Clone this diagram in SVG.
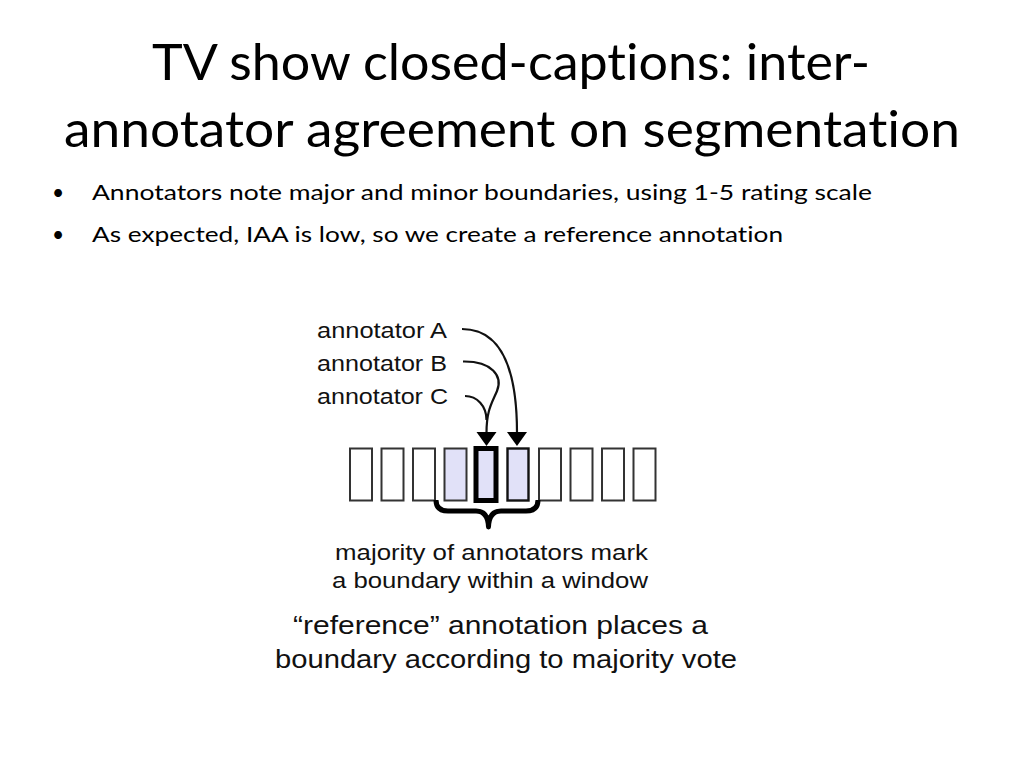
<svg xmlns="http://www.w3.org/2000/svg" width="1024" height="768" viewBox="0 0 1024 768">
<style>
.title{font-family:Lato,"Open Sans","Liberation Sans",sans-serif;font-size:50px;fill:#000;font-variant-ligatures:none}
.bul{font-family:Lato,"Open Sans","Liberation Sans",sans-serif;font-size:21px;fill:#000;font-variant-ligatures:none}
.lab{font-family:"Liberation Sans",Arial,sans-serif;fill:#111}
.box{fill:#fff;stroke:#333;stroke-width:2}
.hl{fill:#e1e1f8}
.conn{fill:none;stroke:#111;stroke-width:2.2}
</style>
<rect width="1024" height="768" fill="#fff"/>
<g id="title">
<text class="title" x="152" y="80" textLength="718" lengthAdjust="spacingAndGlyphs">TV show closed-captions: inter-</text>
<text class="title" x="64" y="147" textLength="896" lengthAdjust="spacingAndGlyphs">annotator agreement on segmentation</text>
</g>
<g id="bullets">
<text class="bul" x="52" y="200">•</text>
<text class="bul" x="92" y="200" textLength="780" lengthAdjust="spacingAndGlyphs">Annotators note major and minor boundaries, using 1-5 rating scale</text>
<text class="bul" x="52" y="242">•</text>
<text class="bul" x="92" y="242" textLength="691" lengthAdjust="spacingAndGlyphs">As expected, IAA is low, so we create a reference annotation</text>
</g>
<g id="labels">
<text class="lab" x="317" y="338" font-size="22" textLength="130" lengthAdjust="spacingAndGlyphs">annotator A</text>
<text class="lab" x="317" y="371" font-size="22" textLength="130" lengthAdjust="spacingAndGlyphs">annotator B</text>
<text class="lab" x="317" y="404" font-size="22" textLength="131" lengthAdjust="spacingAndGlyphs">annotator C</text>
</g>
<g id="boxes">
<rect class="box" x="350" y="448.5" width="22" height="52"/>
<rect class="box" x="381.5" y="448.5" width="22" height="52"/>
<rect class="box" x="413" y="448.5" width="22" height="52"/>
<rect class="box hl" x="444.5" y="448.5" width="22" height="52"/>
<rect class="box hl" x="476" y="448.5" width="20" height="52" style="stroke:#000;stroke-width:5"/>
<rect class="box hl" x="507.5" y="448.5" width="21" height="52" style="stroke:#111;stroke-width:2.4"/>
<rect class="box" x="539" y="448.5" width="22" height="52"/>
<rect class="box" x="570.5" y="448.5" width="22" height="52"/>
<rect class="box" x="602" y="448.5" width="22" height="52"/>
<rect class="box" x="633.5" y="448.5" width="22" height="52"/>
</g>
<g id="connectors">
<path class="conn" d="M462,329 C499,329 517,365 517,433"/>
<path class="conn" d="M463,361.5 C492,361 503,376 497,391 C492,403 486.5,410 486.5,433"/>
<path class="conn" d="M465,396 C477,396 486.5,406 486.5,420"/>
<path d="M476.5,432 L496.5,432 L486.5,446 Z" fill="#000"/>
<path d="M507,432 L527,432 L517,446 Z" fill="#000"/>
</g>
<g id="brace">
<path d="M436,500 Q436,511 448,511 L476,511 Q488,511 488.5,527 Q489,511 501,511 L526,511 Q538,511 538,500" fill="none" stroke="#000" stroke-width="5" stroke-linejoin="round"/>
</g>
<g id="captions">
<text class="lab" x="335" y="560" font-size="22" textLength="313" lengthAdjust="spacingAndGlyphs">majority of annotators mark</text>
<text class="lab" x="332" y="588" font-size="22" textLength="316" lengthAdjust="spacingAndGlyphs">a boundary within a window</text>
<text class="lab" x="293" y="634" font-size="26" textLength="415" lengthAdjust="spacingAndGlyphs">“reference” annotation places a</text>
<text class="lab" x="275" y="668" font-size="26" textLength="462" lengthAdjust="spacingAndGlyphs">boundary according to majority vote</text>
</g>
</svg>
